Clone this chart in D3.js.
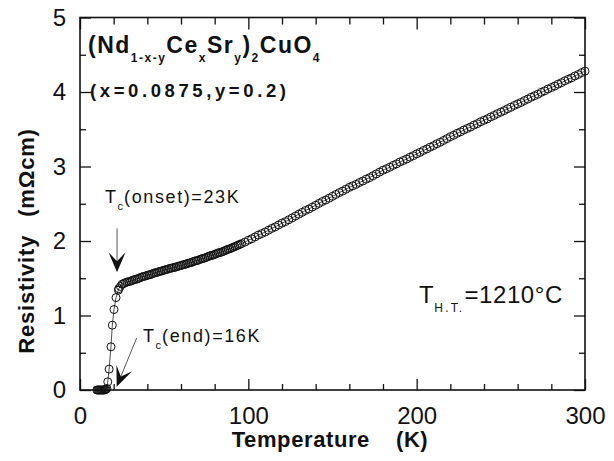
<!DOCTYPE html>
<html>
<head>
<meta charset="utf-8">
<script src="https://cdn.jsdelivr.net/npm/d3@7"></script>
<style>
  body { margin: 0; background: #fff; }
  text { font-family: "Liberation Sans", Arial, sans-serif; fill: #111; }
</style>
</head>
<body>
<svg width="614" height="461"></svg>
<script>
// resistivity vs temperature, (Nd,Ce,Sr)2CuO4 sample
// values

// superconducting transition region
const lowT = [10, 10.5, 11, 11.5, 12, 12.5, 13, 13.5, 14, 14.5, 15, 15.5, 16, 16.5, 17.3, 18.4, 19.2, 20.2, 21.4, 22.8];
const lowR = [0, 0, 0, 0, 0, 0, 0, 0, 0, 0, 0.005, 0.01, 0.02, 0.11, 0.28, 0.58, 0.87, 1.08, 1.24, 1.34];

// dense run, 23-96 K
const midT = [23, 24, 25, 26, 27, 28, 29, 30, 31, 32, 33, 34, 35, 36, 37, 38, 39, 40, 41, 42, 43, 44, 45, 46, 47, 48, 49, 50,
  51, 52, 53, 54, 55, 56, 57, 58, 59, 60, 61, 62, 63, 64, 65, 66, 67, 68, 69, 70, 71, 72, 73, 74, 75, 76, 77, 78, 79, 80,
  81, 82, 83, 84, 85, 86, 87, 88, 89, 90, 91, 92, 93, 94, 95, 96];
const midR = [1.36, 1.39, 1.42, 1.43, 1.44, 1.45, 1.455, 1.46, 1.47, 1.48, 1.485, 1.49, 1.50, 1.51, 1.52, 1.525, 1.53, 1.54,
  1.545, 1.55, 1.56, 1.57, 1.575, 1.58, 1.59, 1.595, 1.60, 1.61, 1.615, 1.62, 1.63, 1.635, 1.64, 1.645, 1.65, 1.66, 1.665,
  1.67, 1.68, 1.685, 1.69, 1.70, 1.705, 1.71, 1.72, 1.73, 1.735, 1.74, 1.75, 1.76, 1.765, 1.77, 1.78, 1.79, 1.80, 1.805,
  1.81, 1.82, 1.83, 1.84, 1.845, 1.85, 1.86, 1.87, 1.88, 1.89, 1.895, 1.905, 1.915, 1.925, 1.935, 1.945, 1.955, 1.965];

// high temperature run, 98-300 K
const highT = [98, 100, 102, 104, 106, 108, 110, 112, 114, 116, 118, 120, 122, 124, 126, 128, 130, 132, 134, 136, 138, 140,
  142, 144, 146, 148, 150, 152, 154, 156, 158, 160, 162, 164, 166, 168, 170, 172, 174, 176, 178, 180, 182, 184, 186, 188,
  190, 192, 194, 196, 198, 200, 202, 204, 206, 208, 210, 212, 214, 216, 218, 220, 222, 224, 226, 228, 230, 232, 234, 236,
  238, 240, 242, 244, 246, 248, 250, 252, 254, 256, 258, 260, 262, 264, 266, 268, 270, 272, 274, 276, 278, 280, 282, 284,
  286, 288, 290, 292, 294, 296, 298, 300];
const highR = [1.985, 2.01, 2.03, 2.055, 2.08, 2.10, 2.12, 2.145, 2.17, 2.19, 2.215, 2.24, 2.26, 2.285, 2.31, 2.335, 2.36,
  2.385, 2.41, 2.43, 2.455, 2.48, 2.505, 2.53, 2.55, 2.575, 2.60, 2.625, 2.65, 2.67, 2.695, 2.72, 2.74, 2.76, 2.785, 2.805,
  2.83, 2.85, 2.875, 2.90, 2.925, 2.95, 2.97, 2.99, 3.015, 3.035, 3.06, 3.08, 3.10, 3.125, 3.145, 3.17, 3.19, 3.215, 3.235,
  3.26, 3.28, 3.305, 3.325, 3.35, 3.375, 3.40, 3.42, 3.445, 3.465, 3.49, 3.51, 3.53, 3.555, 3.575, 3.60, 3.62, 3.64, 3.665,
  3.685, 3.71, 3.73, 3.75, 3.775, 3.795, 3.82, 3.84, 3.86, 3.885, 3.905, 3.93, 3.95, 3.97, 3.995, 4.015, 4.04, 4.06, 4.08,
  4.105, 4.125, 4.15, 4.17, 4.19, 4.215, 4.235, 4.26, 4.28];

// axis ticks
const xMajor = [0, 100, 200, 300];
const xMinor = [20, 40, 60, 80, 120, 140, 160, 180, 220, 240, 260, 280];
const yMajor = [0, 1, 2, 3, 4, 5];
const yMinor = [0.5, 1.5, 2.5, 3.5, 4.5];

const svg = d3.select('svg');

const mLeft = 80, mRight = 585, mTop = 17.5, mBottom = 390;
const x = d3.scaleLinear().domain([0, 300]).range([mLeft, mRight]);
const y = d3.scaleLinear().domain([0, 5]).range([mBottom, mTop]);

// build point list from the three runs
const pts = [];
[[lowT, lowR], [midT, midR], [highT, highR]].forEach(run => {
  run[0].forEach((t, i) => pts.push({ t: t, r: run[1][i] }));
});

//ticks on all four sides, pointing inward
function tickAxis(axisFn, scale, vals, len, tr) {
  const g = svg.append('g').attr('transform', tr)
    .call(axisFn(scale).tickValues(vals).tickSizeInner(-len).tickSizeOuter(0).tickFormat(''));
  g.select('.domain').remove();
  g.selectAll('line').attr('stroke', '#111').attr('stroke-width', 1.3);
}
tickAxis(d3.axisBottom, x, xMajor, 11, `translate(0,${mBottom})`);
tickAxis(d3.axisBottom, x, xMinor, 6, `translate(0,${mBottom})`);
tickAxis(d3.axisTop, x, xMajor, 12, `translate(0,${mTop})`);
tickAxis(d3.axisTop, x, xMinor, 7, `translate(0,${mTop})`);
tickAxis(d3.axisLeft, y, yMajor, 11, `translate(${mLeft},0)`);
tickAxis(d3.axisLeft, y, yMinor, 6, `translate(${mLeft},0)`);
tickAxis(d3.axisRight, y, yMajor, 11, `translate(${mRight},0)`);
tickAxis(d3.axisRight, y, yMinor, 6, `translate(${mRight},0)`);

// tick labels
const xl = svg.append('g').attr('transform', `translate(0,${mBottom})`)
  .call(d3.axisBottom(x).tickValues(xMajor).tickSize(0).tickPadding(17).tickFormat(d3.format('d')));
xl.select('.domain').remove();
xl.selectAll('text').style('font-size', '24px').attr('fill', '#111');

const yl = svg.append('g').attr('transform', `translate(${mLeft},0)`)
  .call(d3.axisLeft(y).tickValues(yMajor).tickSize(0).tickPadding(14).tickFormat(d3.format('d')));
yl.select('.domain').remove();
yl.selectAll('text').style('font-size', '24px').attr('fill', '#111');

// frame
svg.append('rect')
  .attr('x', mLeft).attr('y', mTop)
  .attr('width', mRight - mLeft).attr('height', mBottom - mTop)
  .attr('fill', 'none').attr('stroke', '#111').attr('stroke-width', 1.6);

// thin connecting line
const line = d3.line().x(d => x(d.t)).y(d => y(d.r));
svg.append('path').datum(pts)
  .attr('d', line)
  .attr('fill', 'none').attr('stroke', '#222').attr('stroke-width', 0.8);

// open circle markers
svg.append('g').selectAll('circle')
  .data(pts).enter().append('circle')
  .attr('cx', d => x(d.t)).attr('cy', d => y(d.r))
  .attr('r', 4)
  .attr('fill', 'none').attr('stroke', '#111').attr('stroke-width', 1);

// axis titles
svg.append('text')
  .attr('transform', 'translate(34,241) rotate(-90)')
  .attr('text-anchor', 'middle')
  .style('font-size', '22px').style('font-weight', 'bold').style('letter-spacing', '0.8px')
  .text('Resistivity')
  .append('tspan').attr('dx', 18).text('(mΩcm)');

svg.append('text')
  .attr('x', 330).attr('y', 447)
  .attr('text-anchor', 'middle')
  .style('font-size', '22px').style('font-weight', 'bold').style('letter-spacing', '0.6px')
  .text('Temperature')
  .append('tspan').attr('dx', 26).text('(K)');

// text with subscripts: parts = [string, isSub]
function richText(px, py, size, subSize, shift, parts, weight, spacing, subSpacing) {
  const t = svg.append('text').attr('x', px).attr('y', py)
    .style('font-size', size + 'px')
    .style('font-weight', weight)
    .style('letter-spacing', spacing + 'px');
  let down = false;
  parts.forEach(p => {
    const s = t.append('tspan').text(p[0]);
    if (p[1] && !down) { s.attr('dy', shift); down = true; }
    else if (!p[1] && down) { s.attr('dy', -shift); down = false; }
    if (p[1]) s.style('font-size', subSize + 'px').style('letter-spacing', subSpacing + 'px');
  });
  return t;
}

richText(88, 53, 23, 12, 9, [['(Nd', 0], ['1-x-y', 1], ['Ce', 0], ['x', 1], ['Sr', 0], ['y', 1], [')', 0], ['2', 1], ['CuO', 0], ['4', 1]], 'bold', 1.5, 1.5);
richText(90, 97, 18.5, 12, 0, [['(x=0.0875,y=0.2)', 0]], 'bold', 3.6, 0);
richText(105, 203, 18, 11, 7, [['T', 0], ['c', 1], ['(onset)=23K', 0]], 'normal', 1.6, 1);
richText(143, 342, 18, 11, 7, [['T', 0], ['c', 1], ['(end)=16K', 0]], 'normal', 1.6, 1);
richText(419, 303, 24, 12, 9, [['T', 0], ['H.T.', 1], ['=1210°C', 0]], 'normal', 0.6, 2.2);

// arrows (data coordinates of tail and tip)
const arrows = [
  { t0: 22, r0: 2.17, t1: 22, r1: 1.58 },
  { t0: 33.7, r0: 0.70, t1: 21.8, r1: 0.045 }
];
arrows.forEach(a => {
  const x0 = x(a.t0), y0 = y(a.r0), x1 = x(a.t1), y1 = y(a.r1);
  const len = Math.hypot(x1 - x0, y1 - y0);
  const ux = (x1 - x0) / len, uy = (y1 - y0) / len;
  const nx = -uy, ny = ux;
  const L = 20, W = 8.5, N = 11;
  const bx = x1 - ux * L, by = y1 - uy * L;
  const mx = x1 - ux * N, my = y1 - uy * N;
  svg.append('line')
    .attr('x1', x0).attr('y1', y0).attr('x2', mx).attr('y2', my)
    .attr('stroke', '#444').attr('stroke-width', 0.9);
  svg.append('path')
    .attr('d', `M${x1},${y1}L${bx + nx * W},${by + ny * W}L${mx},${my}L${bx - nx * W},${by - ny * W}Z`)
    .attr('fill', '#111');
});
</script>
</body>
</html>
